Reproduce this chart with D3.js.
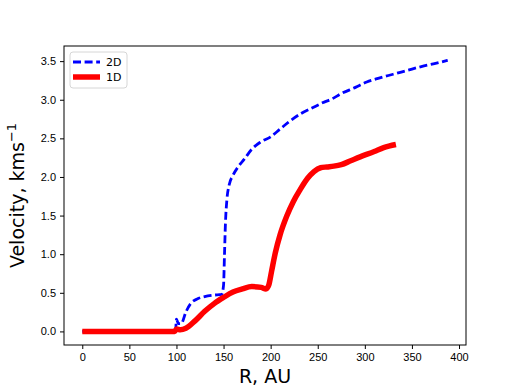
<!DOCTYPE html>
<html>
<head>
  <meta charset="utf-8">
  <style type="text/css">
  body {
    margin: 0;
    background: #fff;
    font-family: "DejaVu Sans", sans-serif;
  }
  .axis text {
    font-size: 11px;
    fill: #000;
  }
  .axis path, .axis line {
    stroke: #000;
  }
  .label {
    font-size: 19px;
    fill: #000;
  }
  .legend text {
    font-size: 11px;
  }
  </style>
</head>
<body>
  <script src="https://d3js.org/d3.v7.min.js"></script>
  <script>
    // 2D curve (R in AU, velocity in km/s)
    var r2d = [0, 99, 100, 102, 105, 110, 115, 122, 130, 140, 148, 150, 151, 152, 153.5, 156, 160, 166, 172, 180, 189, 200, 210, 219, 232, 245, 255, 265, 275, 290, 302, 315, 330, 345, 360, 375, 388];
    var v2d = [0, 0, 0.16, 0.1, 0.1, 0.25, 0.36, 0.42, 0.45, 0.47, 0.48, 0.6, 1.0, 1.4, 1.7, 1.9, 2.02, 2.14, 2.23, 2.36, 2.45, 2.52, 2.62, 2.71, 2.82, 2.9, 2.96, 3.01, 3.08, 3.16, 3.23, 3.28, 3.33, 3.38, 3.43, 3.47, 3.51];
    // 1D curve
    var r1d = [0, 98, 100, 104, 110, 120, 130, 140, 150, 160, 170, 180, 190, 195, 198, 201, 205, 210, 217, 224, 231, 239, 246, 253, 260, 267, 275, 285, 295, 310, 320, 333];
    var v1d = [0, 0, 0.03, 0.02, 0.04, 0.14, 0.26, 0.36, 0.44, 0.51, 0.55, 0.58, 0.57, 0.55, 0.6, 0.78, 1.02, 1.25, 1.49, 1.68, 1.83, 1.98, 2.07, 2.12, 2.13, 2.14, 2.16, 2.21, 2.26, 2.33, 2.38, 2.42];

    var xTicks = [0, 50, 100, 150, 200, 250, 300, 350, 400];
    var yTicks = [0.0, 0.5, 1.0, 1.5, 2.0, 2.5, 3.0, 3.5];

    var margin = {top: 46, right: 52, bottom: 43, left: 64};
    var W = 518, H = 388;
    var width = W - margin.left - margin.right,
        height = H - margin.top - margin.bottom;

    var x = d3.scaleLinear().domain([-19.4, 407.4]).range([0, width]);
    var y = d3.scaleLinear().domain([-0.176, 3.696]).range([height, 0]);

    var svg = d3.select("body").append("svg")
        .attr("width", W)
        .attr("height", H);
    var g = svg.append("g")
        .attr("transform", "translate(" + margin.left + "," + margin.top + ")");

    var line = d3.line()
        .curve(d3.curveMonotoneX)
        .x(function(d) { return x(d[0]); })
        .y(function(d) { return y(d[1]); });

    var d2 = r2d.map(function(r, i) { return [r, v2d[i]]; });
    var d1 = r1d.map(function(r, i) { return [r, v1d[i]]; });

    g.append("path")
        .datum(d2)
        .attr("d", line)
        .attr("fill", "none")
        .attr("stroke", "#0000ff")
        .attr("stroke-width", 2.8)
        .attr("stroke-dasharray", "8 3.6");

    g.append("path")
        .datum(d1)
        .attr("d", line)
        .attr("fill", "none")
        .attr("stroke", "#ff0000")
        .attr("stroke-width", 5.5)
        .attr("stroke-linejoin", "round");

    var xAxis = d3.axisBottom(x)
        .tickValues(xTicks)
        .tickSize(4)
        .tickPadding(4)
        .tickFormat(d3.format("d"));
    var yAxis = d3.axisLeft(y)
        .tickValues(yTicks)
        .tickSize(4)
        .tickPadding(4)
        .tickFormat(d3.format(".1f"));

    g.append("g")
        .attr("class", "x axis")
        .attr("transform", "translate(0," + height + ")")
        .call(xAxis)
        .call(function(s) { s.select(".domain").remove(); });
    g.append("g")
        .attr("class", "y axis")
        .call(yAxis)
        .call(function(s) { s.select(".domain").remove(); });

    // frame
    g.append("rect")
        .attr("width", width)
        .attr("height", height)
        .attr("fill", "none")
        .attr("stroke", "#000")
        .attr("stroke-width", 1);

    g.append("text")
        .attr("class", "label")
        .attr("x", width / 2)
        .attr("y", height + 38)
        .attr("text-anchor", "middle")
        .text("R, AU");

    var yl = g.append("text")
        .attr("class", "label")
        .attr("transform", "translate(-40," + (height / 2) + ") rotate(-90)")
        .attr("text-anchor", "middle");
    yl.append("tspan").text("Velocity, kms");
    yl.append("tspan").attr("dy", -8).attr("font-size", "13px").text("\u22121");

    // legend
    var lg = g.append("g").attr("class", "legend").attr("transform", "translate(6,6)");
    lg.append("rect")
        .attr("width", 57)
        .attr("height", 36)
        .attr("rx", 3)
        .attr("fill", "#fff")
        .attr("fill-opacity", 0.8)
        .attr("stroke", "#d6d6d6");
    var items = [
      {name: "2D", color: "#0000ff", w: 2.8, dash: "8 3.6"},
      {name: "1D", color: "#ff0000", w: 5.5, dash: null}
    ];
    items.forEach(function(it, i) {
      var yy = 10 + i * 15;
      lg.append("line")
          .attr("x1", 3).attr("x2", 30)
          .attr("y1", yy).attr("y2", yy)
          .attr("stroke", it.color)
          .attr("stroke-width", it.w)
          .attr("stroke-dasharray", it.dash);
      lg.append("text")
          .attr("x", 36)
          .attr("y", yy + 4)
          .text(it.name);
    });
  </script>
</body>
</html>
